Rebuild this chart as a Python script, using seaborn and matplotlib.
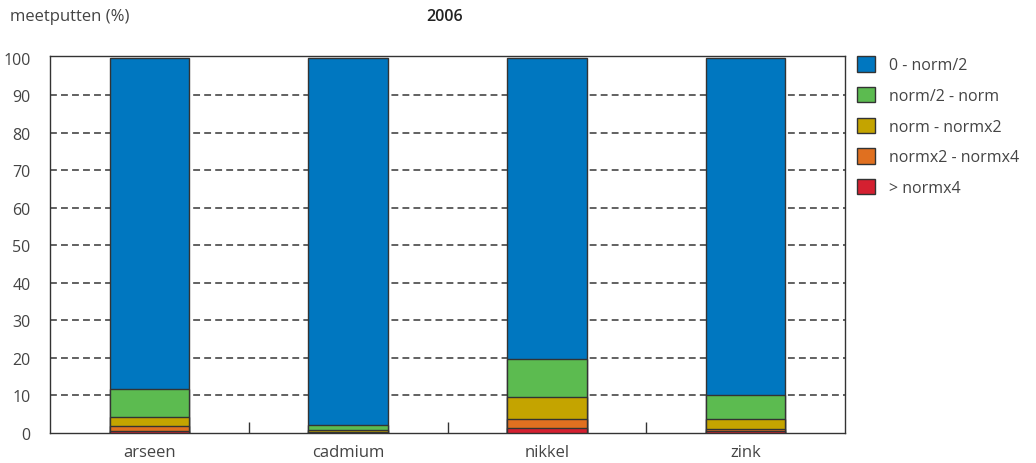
import numpy as np
import pandas as pd
import seaborn as sns
import matplotlib.pyplot as plt
from matplotlib.patches import Patch

# data (% of meetputten per class)
stoffen = ['arseen', 'cadmium', 'nikkel', 'zink']
klassen = ['0 - norm/2', 'norm/2 - norm', 'norm - normx2', 'normx2 - normx4', '> normx4']
boven_x4 = [0.5, 0.1, 1.2, 0.4]
x2_x4 = [1.4, 0.2, 2.4, 0.7]
norm_x2 = [2.3, 0.5, 6.0, 2.6]
half_norm = [7.5, 1.3, 10.1, 6.5]
nul_half = [88.3, 97.9, 80.3, 89.8]
kleuren = ['#0077c0', '#5cbb50', '#c4a400', '#e07020', '#d42030']

df = pd.DataFrame({'stof': stoffen,
                   '> normx4': boven_x4,
                   'normx2 - normx4': x2_x4,
                   'norm - normx2': norm_x2,
                   'norm/2 - norm': half_norm,
                   '0 - norm/2': nul_half})
# cumulative heights, bottom class first
order = klassen[::-1]
cum = df[order].cumsum(axis=1)

sns.set_style('white')
plt.rcParams['font.family'] = ['Open Sans', 'DejaVu Sans']
txt = '#444444'

fig = plt.figure(figsize=(10.36, 4.64), dpi=100)
ax = fig.add_axes([50 / 1036, 30 / 464, 795 / 1036, 377 / 464])

# draw tallest cumulative first so smaller ones overlay
for k in klassen:
    sns.barplot(x=df['stof'], y=cum[k], color=kleuren[klassen.index(k)],
                width=0.4, edgecolor='#333333', linewidth=1, saturation=1,
                ax=ax, zorder=3)

ax.set_xlim(-0.5, 3.5)
ax.set_ylim(0, 100.5)
ax.set_yticks(np.arange(0, 101, 10))
ax.yaxis.grid(True, linestyle=(0, (3.8, 2.3)), color='#555555', linewidth=1.3)
ax.set_axisbelow(True)
ax.set_xlabel('')
ax.set_ylabel('')
ax.set_xticks([0.5, 1.5, 2.5], minor=False)
ax.set_xticklabels([])
ax.set_xticks([0, 1, 2, 3], minor=True)
ax.set_xticklabels(stoffen, minor=True)
ax.tick_params(axis='x', which='major', length=8, width=1, color='#333333', direction='in', bottom=True)
ax.tick_params(axis='x', which='minor', length=0, labelsize=12, labelcolor=txt, pad=8)
ax.tick_params(axis='y', which='both', length=0, labelsize=11.5, labelcolor=txt, pad=14)
for s in ax.spines.values():
    s.set_color('#333333')
    s.set_linewidth(1)
    s.set_visible(True)
# no dashed line on top of the frame at 0 and 100
gl = ax.get_ygridlines()
gl[0].set_visible(False)
gl[-1].set_visible(False)

handles = [Patch(facecolor=c, edgecolor='#333333', label=l) for c, l in zip(kleuren, klassen)]
leg = fig.legend(handles=handles, loc='upper left', bbox_to_anchor=(843 / 1036, 1 - 43 / 464),
                 frameon=False, fontsize=11.5, handlelength=1.1, handleheight=1.1,
                 labelspacing=0.85, handletextpad=0.9)
for t in leg.get_texts():
    t.set_color(txt)

fig.text(10 / 1036, 1 - 17 / 464, 'meetputten (%)', fontsize=12, color=txt, va='center')
fig.text(445 / 1036, 1 - 17 / 464, '2006', fontsize=11.5, color='#222222', va='center',
         ha='center', fontweight='semibold')

fig.savefig('out.png', dpi=100)
